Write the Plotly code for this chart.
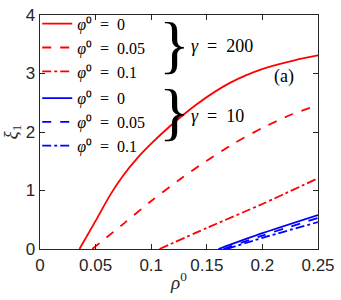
import plotly.graph_objects as go

# gamma = 200
x_r0 = [0.0355, 0.05, 0.0633, 0.075, 0.0883, 0.1, 0.1163, 0.1413, 0.1708, 0.2003, 0.2297, 0.25]
y_r0 = [0.0, 0.48, 0.93, 1.26, 1.57, 1.80, 2.09, 2.48, 2.84, 3.08, 3.23, 3.31]
x_r05 = [0.047, 0.075, 0.1, 0.125, 0.15, 0.175, 0.2, 0.225, 0.25]
y_r05 = [0.0, 0.43, 0.82, 1.18, 1.51, 1.81, 2.07, 2.29, 2.46]
x_r1 = [0.1075, 0.15, 0.2, 0.25]
y_r1 = [0.0, 0.36, 0.77, 1.21]
# gamma = 10
x_b0 = [0.1605, 0.2, 0.25]
y_b0 = [0.0, 0.27, 0.58]
x_b05 = [0.165, 0.2, 0.25]
y_b05 = [0.0, 0.23, 0.53]
x_b1 = [0.168, 0.2, 0.25]
y_b1 = [0.0, 0.19, 0.46]

x_ticks = [0, 0.05, 0.1, 0.15, 0.2, 0.25]
x_labels = ["0", "0.05", "0.1", "0.15", "0.2", "0.25"]
y_ticks = [0, 1, 2, 3, 4]

RED = "#ff0000"
BLUE = "#0000ff"
SERIF = "Liberation Serif"
AX = "#262626"

fig = go.Figure()
series = [
    (x_r0, y_r0, RED, "solid", "0", "g200"),
    (x_r05, y_r05, RED, "dash", "0.05", "g200"),
    (x_r1, y_r1, RED, "dashdot", "0.1", "g200"),
    (x_b0, y_b0, BLUE, "solid", "0", "g10"),
    (x_b05, y_b05, BLUE, "dash", "0.05", "g10"),
    (x_b1, y_b1, BLUE, "dashdot", "0.1", "g10"),
]
for xs, ys, c, d, lab, grp in series:
    fig.add_trace(go.Scatter(
        x=xs, y=ys, mode="lines",
        line=dict(color=c, dash=d, width=1.8, shape="spline", smoothing=0.7),
        name="<i>φ</i>\u2070\u2002=\u2002" + lab, legendgroup=grp,
        hoverinfo="skip",
    ))

axis_common = dict(
    showline=True, mirror="ticks", linecolor=AX, linewidth=1.3,
    ticks="inside", ticklen=5, tickcolor=AX, showgrid=False, zeroline=False,
    tickfont=dict(family="Liberation Sans", size=17, color=AX),
    ticklabeloverflow="allow",
)

fig.update_layout(
    width=341, height=300,
    margin=dict(l=40, r=18, t=6, b=51),
    plot_bgcolor="white", paper_bgcolor="white",
    hovermode=False,
    xaxis=dict(range=[0, 0.25], tickvals=x_ticks, ticktext=x_labels,
               title=dict(text="<i>ρ</i><sup>0</sup>", font=dict(family=SERIF, size=19, color=AX), standoff=2),
               **axis_common),
    yaxis=dict(range=[0, 4], tickvals=y_ticks,
               title=dict(text="<i>ξ</i><sub>1</sub>", font=dict(family=SERIF, size=19, color=AX), standoff=4),
               **axis_common),
    legend=dict(x=-0.01, y=1.035, xanchor="left", yanchor="top", bgcolor="rgba(0,0,0,0)",
                font=dict(family=SERIF, size=16, color="black"), itemwidth=30,
                tracegroupgap=3, traceorder="grouped", maxheight=300),
    showlegend=True,
)

fig.add_annotation(x=0.219, y=2.95, xref="x", yref="y", text="(a)", showarrow=False,
                   font=dict(family=SERIF, size=18, color="black"))
fig.add_annotation(x=0.121, y=3.50, xref="x", yref="y", text="}", showarrow=False,
                   font=dict(family=SERIF, size=64, color="black"))
fig.add_annotation(x=0.121, y=2.35, xref="x", yref="y", text="}", showarrow=False,
                   font=dict(family=SERIF, size=64, color="black"))
fig.add_annotation(x=0.134, y=3.47, xref="x", yref="y", text="<i>γ</i>\u2002=\u2002200", showarrow=False,
                   xanchor="left", font=dict(family=SERIF, size=18, color="black"))
fig.add_annotation(x=0.134, y=2.27, xref="x", yref="y", text="<i>γ</i>\u2002=\u200210", showarrow=False,
                   xanchor="left", font=dict(family=SERIF, size=18, color="black"))

fig.write_html("out.html", config={"displayModeBar": False, "staticPlot": True},
               post_script="document.body.style.margin='0';")
